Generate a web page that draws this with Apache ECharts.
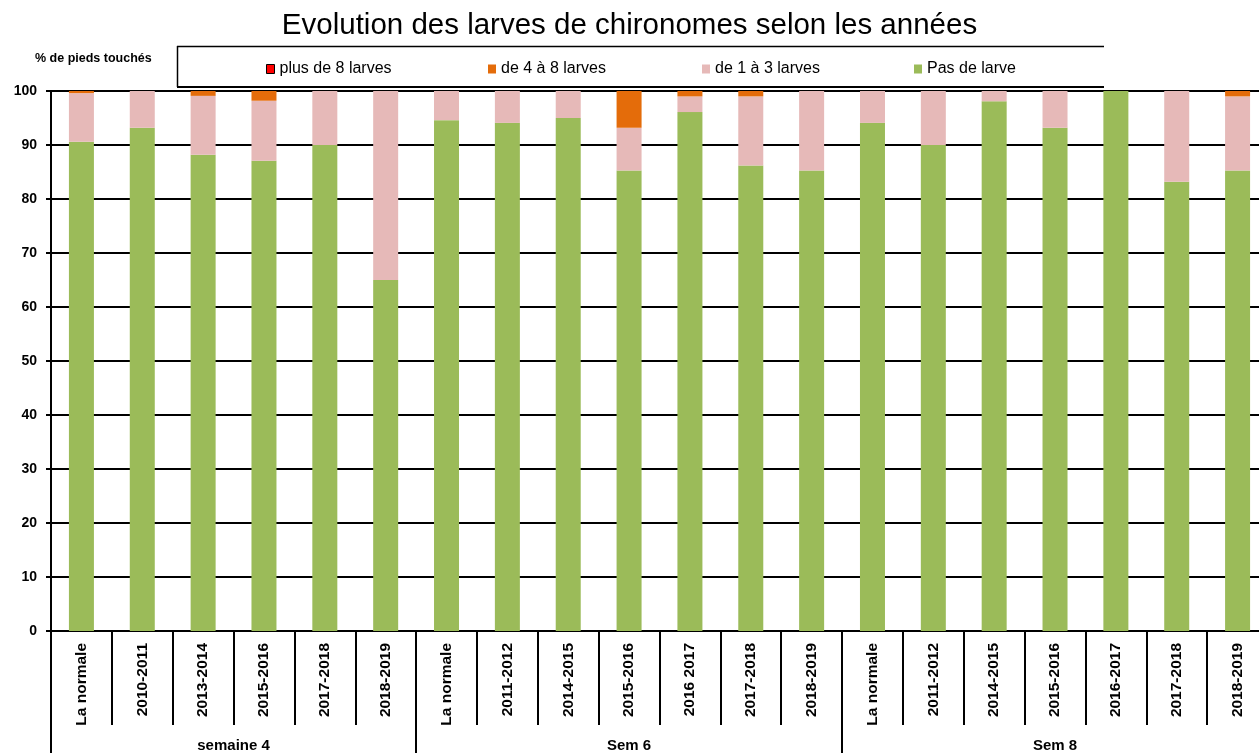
<!DOCTYPE html>
<html>
<head>
<meta charset="utf-8">
<script src="https://cdn.jsdelivr.net/npm/echarts@6/dist/echarts.min.js"></script>
<style>
html,body{margin:0;padding:0;background:#fff;}
#chart{width:1259px;height:753px;}
</style>
</head>
<body>
<div id="chart"></div>
<script>
var categories = ['La normale','2010-2011','2013-2014','2015-2016','2017-2018','2018-2019',
  'La normale','2011-2012','2014-2015','2015-2016','2016 2017','2017-2018','2018-2019',
  'La normale','2011-2012','2014-2015','2015-2016','2016-2017','2017-2018','2018-2019'];
var groups = ['semaine 4','Sem 6','Sem 8'];
var groupStarts = [0, 6, 13];
var groupEnds = [5, 12, 19];
var pasDeLarve = [90.6,93.2,88.2,87.1,90.0,65.0, 94.6,94.1,95.0,85.3,96.1,86.2,85.3, 94.1,90.0,98.1,93.2,100,83.2,85.3];
var de1a3 = [9.0,6.8,10.9,11.1,10.0,35.0, 5.4,5.9,5.0,7.9,2.9,12.8,14.7, 5.9,10.0,1.9,6.8,0,16.8,13.7];
var de4a8 = [0.4,0,0.9,1.8,0,0, 0,0,0,6.8,1.0,1.0,0, 0,0,0,0,0,0,1.0];
var plusDe8 = [0,0,0,0,0,0, 0,0,0,0,0,0,0, 0,0,0,0,0,0,0];
var yTicks = [0,10,20,30,40,50,60,70,80,90,100];

var FONT = "'Liberation Sans', Arial, sans-serif";
var chart = echarts.init(document.getElementById('chart'), null, {renderer:'canvas'});

function legendFor(name, left, extra) {
  var d = {name: name};
  if (extra) d.itemStyle = extra;
  return {
    left: left, top: 61, padding: 0, itemWidth: 8, itemHeight: 9, itemGap: 4,
    icon: 'rect', data: [d], selectedMode: false,
    textStyle: {fontFamily: FONT, fontSize: 16, color: '#000'}
  };
}

var option = {
  animation: false,
  backgroundColor: '#fff',
  title: {
    text: 'Evolution des larves de chironomes selon les années',
    left: 'center', top: 6,
    textStyle: {fontFamily: FONT, fontSize: 29.5, fontWeight: 'normal', color: '#000'}
  },
  legend: [
    legendFor('plus de 8 larves', 266, {borderColor: '#000', borderWidth: 1}),
    legendFor('de 4 à 8 larves', 488),
    legendFor('de 1 à 3 larves', 702),
    legendFor('Pas de larve', 914)
  ],
  grid: {left: 51, top: 91, right: -9, bottom: 122, containLabel: false, outerBoundsMode: 'none'},
  xAxis: [{
    type: 'category', data: categories, position: 'bottom',
    axisLine: {show: true, lineStyle: {color: '#000', width: 2}},
    axisTick: {show: true, interval: 0, length: 94, lineStyle: {color: '#000', width: 2}},
    axisLabel: {interval: 0, rotate: 90, margin: 12, color: '#000',
      fontFamily: FONT, fontSize: 15.5, fontWeight: 'bold'}
  }, {
    type: 'category', data: categories, position: 'bottom', offset: 0,
    axisLine: {show: false},
    axisTick: {show: true, length: 122, lineStyle: {color: '#000', width: 2},
      interval: function (i) { return groupStarts.indexOf(i) >= 0; }},
    axisLabel: {show: false}
  }],
  yAxis: {
    type: 'value', min: 0, max: 100, interval: 10,
    axisLine: {show: true, lineStyle: {color: '#000', width: 2}},
    axisTick: {show: true, length: 5, lineStyle: {color: '#000', width: 2}},
    splitLine: {show: true, lineStyle: {color: '#000', width: 2}},
    axisLabel: {margin: 14, color: '#000', fontFamily: FONT, fontSize: 14, fontWeight: 'bold',
      formatter: function (v) { return yTicks.indexOf(v) >= 0 ? String(v) : ''; }}
  },
  series: [
    {name: 'Pas de larve', type: 'bar', stack: 't', data: pasDeLarve, barWidth: 25, itemStyle: {color: '#9BBB59'}},
    {name: 'de 1 à 3 larves', type: 'bar', stack: 't', data: de1a3, barWidth: 25, itemStyle: {color: '#E6B9B8'}},
    {name: 'de 4 à 8 larves', type: 'bar', stack: 't', data: de4a8, barWidth: 25, itemStyle: {color: '#E46C0A'}},
    {name: 'plus de 8 larves', type: 'bar', stack: 't', data: plusDe8, barWidth: 25, itemStyle: {color: '#FF0000'}}
  ]
};
chart.setOption(option);

var graphics = [
  {type: 'line', shape: {x1: 177, y1: 46.5, x2: 1104, y2: 46.5}, style: {stroke: '#000', lineWidth: 1.5}},
  {type: 'line', shape: {x1: 177.5, y1: 46, x2: 177.5, y2: 87}, style: {stroke: '#000', lineWidth: 1.5}},
  {type: 'line', shape: {x1: 177, y1: 87, x2: 1104, y2: 87}, style: {stroke: '#000', lineWidth: 2}},
  {type: 'text', left: 35, top: 52, style: {text: '% de pieds touchés', fontFamily: FONT, fontSize: 12.5, fontWeight: 'bold', fill: '#000'}}
];
for (var g = 0; g < groups.length; g++) {
  var x1 = chart.convertToPixel({xAxisIndex: 0}, groupStarts[g]);
  var x2 = chart.convertToPixel({xAxisIndex: 0}, groupEnds[g]);
  graphics.push({type: 'text', x: (x1 + x2) / 2, y: 746,
    style: {text: groups[g], fontFamily: FONT, fontSize: 15, fontWeight: 'bold', fill: '#000',
      textAlign: 'center', textVerticalAlign: 'middle'}});
}
chart.setOption({graphic: graphics});
</script>
</body>
</html>
